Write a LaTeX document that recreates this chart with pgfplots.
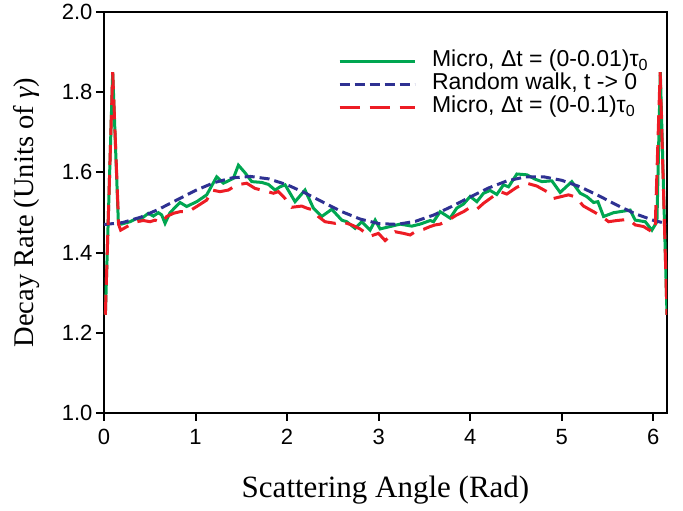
\documentclass[border=0pt]{standalone}
\usepackage{fontspec}
\setmainfont{Liberation Serif}
\newfontfamily\arial{Liberation Sans}
\usepackage{pgfplots}
\pgfplotsset{compat=1.18}

\definecolor{microgreen}{RGB}{0,166,81}
\definecolor{rwblue}{RGB}{46,49,146}
\definecolor{microred}{RGB}{237,28,36}

\begin{document}
\begin{tikzpicture}
\begin{axis}[
    scale only axis,
    width=563pt, height=401pt,
    xmin=0, xmax=6.15,
    ymin=1.0, ymax=2.0,
    xtick={0,1,2,3,4,5,6},
    ytick={1.0,1.2,1.4,1.6,1.8,2.0},
    yticklabel style={/pgf/number format/.cd, fixed, fixed zerofill, precision=1},
    xticklabel style={yshift=-5pt},
    /pgf/number format/assume math mode=true,
    tick label style={font=\arial\fontsize{22}{25}\selectfont},
    xtick pos=left, ytick pos=left,
    tick align=outside,
    major tick length=8pt,
    axis line style={line width=2pt},
    tick style={line width=2pt, black},
    xlabel={Scattering Angle (Rad)},
    ylabel={Decay Rate (Units of \textit{γ})},
    xlabel style={font=\fontsize{31}{35}\selectfont, at={(axis description cs:0.5,-0.192)}, anchor=center},
    ylabel style={font=\fontsize{28.5}{32}\selectfont, at={(axis description cs:-0.137,0.5)}, anchor=center},
    legend style={draw=none, fill=none,
        font=\arial\fontsize{23}{26}\selectfont,
        at={(axis description cs:0.41,0.911)}, anchor=north west,
        nodes={inner sep=1pt, text height=16pt, text depth=5pt},
        row sep=0pt},
    legend cell align=left,
    legend image code/.code={\draw[#1] (0pt,0pt) -- (75pt,0pt); \path (90pt,0pt);},
]
\addplot[microgreen, line width=3pt] coordinates {
(0.015,1.245) (0.095,1.85) (0.157,1.475) (0.19,1.471) (0.284,1.477) (0.357,1.485) (0.41,1.485) (0.485,1.498) (0.539,1.491) (0.594,1.4995) (0.63,1.494) (0.667,1.473) (0.721,1.4995) (0.83,1.525) (0.903,1.515) (1.013,1.527) (1.122,1.544) (1.231,1.589) (1.304,1.573) (1.413,1.585) (1.468,1.618) (1.541,1.599) (1.614,1.577) (1.723,1.575) (1.796,1.57) (1.869,1.556) (1.923,1.564) (1.978,1.569) (2.087,1.527) (2.196,1.556) (2.287,1.511) (2.378,1.49) (2.488,1.508) (2.597,1.481) (2.652,1.477) (2.743,1.4605) (2.816,1.477) (2.907,1.456) (2.962,1.481) (3.016,1.459) (3.126,1.465) (3.235,1.471) (3.362,1.466) (3.453,1.471) (3.563,1.48) (3.599,1.477) (3.672,1.502) (3.727,1.494) (3.781,1.486) (3.854,1.511) (3.927,1.521) (4.0,1.54) (4.073,1.527) (4.146,1.548) (4.218,1.555) (4.291,1.545) (4.364,1.569) (4.419,1.564) (4.51,1.596) (4.619,1.594) (4.71,1.583) (4.783,1.577) (4.892,1.579) (4.983,1.55) (5.11,1.577) (5.202,1.548) (5.275,1.5395) (5.348,1.525) (5.395,1.527) (5.457,1.49) (5.566,1.4995) (5.748,1.506) (5.803,1.481) (5.913,1.477) (5.985,1.456) (6.04,1.477) (6.077,1.85) (6.15,1.245)
};
\addlegendentry{Micro, Δt = (0-0.01)τ\textsubscript{0}}
\addplot[rwblue, line width=3pt, dash pattern=on 10pt off 5pt] coordinates {
(0,1.47) (0.2,1.4747) (0.4,1.4882) (0.6,1.5083) (0.8,1.5317) (1.0,1.555) (1.2,1.5742) (1.4,1.5865) (1.6,1.5899) (1.8,1.5838) (2.0,1.5692) (2.2,1.5484) (2.4,1.5248) (2.6,1.5019) (2.8,1.4835) (3.0,1.4724) (3.2,1.4704) (3.4,1.4779) (3.6,1.4935) (3.8,1.5152) (4.0,1.5387) (4.2,1.5611) (4.4,1.5787) (4.6,1.5885) (4.8,1.5891) (5.0,1.5803) (5.2,1.5641) (5.4,1.5424) (5.6,1.5187) (5.8,1.4971) (6.0,1.4806) (6.15,1.472)
};
\addlegendentry{Random walk, t -> 0}
\addplot[microred, line width=3pt, dash pattern=on 20pt off 10pt] coordinates {
(0.015,1.245) (0.095,1.85) (0.16,1.47) (0.182,1.456) (0.284,1.469) (0.357,1.477) (0.43,1.48) (0.503,1.477) (0.557,1.481) (0.63,1.475) (0.685,1.49) (0.758,1.498) (0.83,1.502) (0.922,1.502) (1.013,1.515) (1.122,1.531) (1.177,1.556) (1.268,1.552) (1.359,1.556) (1.45,1.569) (1.559,1.573) (1.65,1.56) (1.741,1.555) (1.85,1.548) (1.905,1.552) (1.978,1.535) (2.05,1.513) (2.16,1.516) (2.214,1.511) (2.287,1.506) (2.341,1.49) (2.414,1.477) (2.524,1.473) (2.597,1.477) (2.706,1.469) (2.797,1.459) (2.907,1.441) (2.998,1.448) (3.071,1.43) (3.18,1.452) (3.271,1.448) (3.344,1.444) (3.399,1.452) (3.49,1.458) (3.563,1.465) (3.617,1.469) (3.672,1.471) (3.763,1.481) (3.854,1.494) (3.927,1.502) (4.0,1.513) (4.073,1.508) (4.146,1.523) (4.255,1.541) (4.328,1.552) (4.4,1.546) (4.51,1.563) (4.619,1.573) (4.728,1.566) (4.838,1.552) (4.911,1.535) (4.983,1.539) (5.074,1.544) (5.147,1.539) (5.238,1.516) (5.348,1.502) (5.439,1.49) (5.512,1.477) (5.603,1.48) (5.73,1.483) (5.803,1.469) (5.894,1.465) (5.985,1.452) (6.02,1.456) (6.075,1.85) (6.15,1.245)
};
\addlegendentry{Micro, Δt = (0-0.1)τ\textsubscript{0}}
\end{axis}
\pgfresetboundingbox
\path (current axis.south west) ++(-104pt,-98pt) rectangle ++(683pt,511pt);
\end{tikzpicture}
\end{document}
